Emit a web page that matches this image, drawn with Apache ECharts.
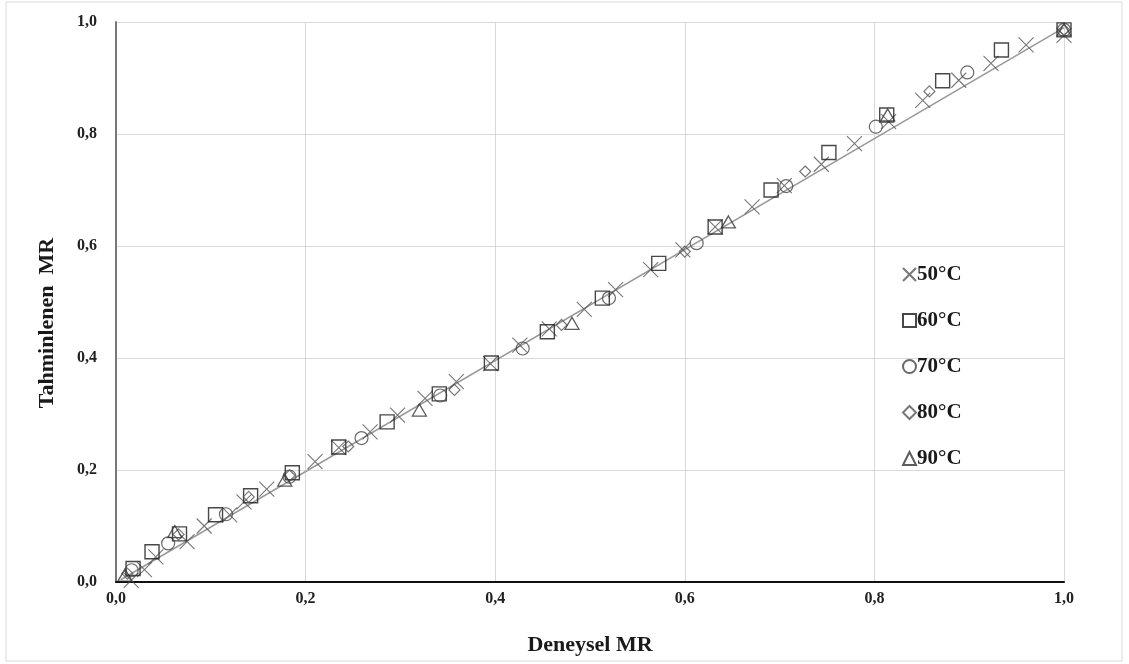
<!DOCTYPE html>
<html><head><meta charset="utf-8">
<script src="https://cdn.jsdelivr.net/npm/echarts@6/dist/echarts.min.js"></script>
<style>html,body{margin:0;padding:0;background:#fff}#c{width:1129px;height:664px}</style>
</head><body><div id="c"></div>
<script>
const seriesNames = ['50°C','60°C','70°C','80°C','90°C'];
const s50 = [[0.016,0.003],[0.03,0.022],[0.042,0.045],[0.075,0.072],[0.093,0.1],[0.12,0.12],[0.135,0.143],[0.159,0.166],[0.21,0.215],[0.235,0.24],[0.268,0.268],[0.297,0.298],[0.326,0.328],[0.359,0.358],[0.395,0.39],[0.426,0.423],[0.457,0.452],[0.494,0.487],[0.527,0.522],[0.564,0.558],[0.598,0.593],[0.632,0.634],[0.671,0.67],[0.705,0.708],[0.744,0.746],[0.779,0.783],[0.815,0.822],[0.851,0.86],[0.889,0.896],[0.923,0.926],[0.96,0.959],[1.0,0.976]];
const s60 = [[0.018,0.024],[0.038,0.054],[0.067,0.086],[0.105,0.12],[0.142,0.154],[0.186,0.195],[0.235,0.241],[0.286,0.286],[0.341,0.336],[0.396,0.391],[0.455,0.447],[0.513,0.507],[0.5725,0.569],[0.632,0.634],[0.691,0.7],[0.752,0.767],[0.813,0.834],[0.872,0.895],[0.934,0.95],[1.0,0.986]];
const s70 = [[0.0165,0.021],[0.055,0.069],[0.116,0.121],[0.183,0.188],[0.259,0.257],[0.342,0.333],[0.429,0.417],[0.52,0.507],[0.6125,0.605],[0.707,0.707],[0.8015,0.813],[0.898,0.91],[1.0,0.986]];
const s80 = [[0.012,0.015],[0.066,0.085],[0.14,0.152],[0.183,0.19],[0.245,0.242],[0.357,0.343],[0.47,0.459],[0.6,0.59],[0.727,0.733],[0.858,0.876],[1.0,0.986]];
const s90 = [[0.0095,0.0125],[0.062,0.09],[0.178,0.182],[0.32,0.307],[0.481,0.462],[0.646,0.643],[0.814,0.834],[1.0,0.986]];
const fitLine = [[0.005,0.004],[1.0,0.99]];
const xTitle = 'Deneysel MR';
const yTitle = 'Tahminlenen  MR';

const fmt = v => v.toFixed(1).replace('.', ',');
const serif = '"Liberation Serif", "DejaVu Serif", serif';
const crossPath = 'path://M0,0L10,10M10,0L0,10';
const styles = [
  {symbol: crossPath, size: 15, color: '#555', bw: 1.1},
  {symbol: 'rect', size: 14, color: '#1a1a1a', bw: 1.4},
  {symbol: 'circle', size: 13, color: '#444', bw: 1.2},
  {symbol: 'diamond', size: 11, color: '#555', bw: 1.2},
  {symbol: 'triangle', size: [14,12], color: '#333', bw: 1.3}
];
const datas = [s50, s60, s70, s80, s90];

const chart = echarts.init(document.getElementById('c'));
const series = [{
  type: 'line', data: fitLine, symbol: 'none', silent: true, z: 1,
  lineStyle: {color: '#999', width: 1.5}
}];
datas.forEach((d, i) => {
  const st = styles[i];
  series.push({
    name: seriesNames[i], type: 'scatter', data: d, z: 2 + i,
    symbol: st.symbol, symbolSize: st.size,
    itemStyle: {color: 'rgba(0,0,0,0)', borderColor: st.color, borderWidth: st.bw}
  });
});

chart.setOption({
  animation: false,
  backgroundColor: '#fff',
  graphic: [{type: 'rect', shape: {x: 6, y: 2, width: 1116, height: 659},
    style: {fill: 'none', stroke: '#d9d9d9', lineWidth: 1}, z: 0, silent: true}],
  grid: {left: 116, right: 65, top: 22, bottom: 82},
  xAxis: {
    type: 'value', min: 0, max: 1, interval: 0.2,
    name: xTitle, nameLocation: 'middle', nameGap: 52,
    nameTextStyle: {fontFamily: serif, fontWeight: 'bold', fontSize: 22, color: '#1a1a1a'},
    axisLine: {show: true, lineStyle: {color: '#111', width: 2}},
    axisTick: {show: false},
    axisLabel: {formatter: fmt, fontFamily: serif, fontWeight: 'bold', fontSize: 16, color: '#222', margin: 9},
    splitLine: {show: true, lineStyle: {color: '#d9d9d9', width: 1}}
  },
  yAxis: {
    type: 'value', min: 0, max: 1, interval: 0.2,
    name: yTitle, nameLocation: 'middle', nameGap: 58,
    nameTextStyle: {fontFamily: serif, fontWeight: 'bold', fontSize: 22, color: '#1a1a1a', padding: [0, 42, 0, 0]},
    axisLine: {show: true, lineStyle: {color: '#777', width: 2}},
    axisTick: {show: false},
    axisLabel: {formatter: fmt, fontFamily: serif, fontWeight: 'bold', fontSize: 16, color: '#222', margin: 19},
    splitLine: {show: true, lineStyle: {color: '#d9d9d9', width: 1}}
  },
  legend: {
    data: seriesNames, orient: 'vertical', left: 897, top: 259,
    itemWidth: 13, itemHeight: 13, itemGap: 25,
    textStyle: {fontFamily: serif, fontWeight: 'bold', fontSize: 21, color: '#1a1a1a', padding: [0,0,0,-4]}
  },
  series: series
});
</script>
</body></html>
